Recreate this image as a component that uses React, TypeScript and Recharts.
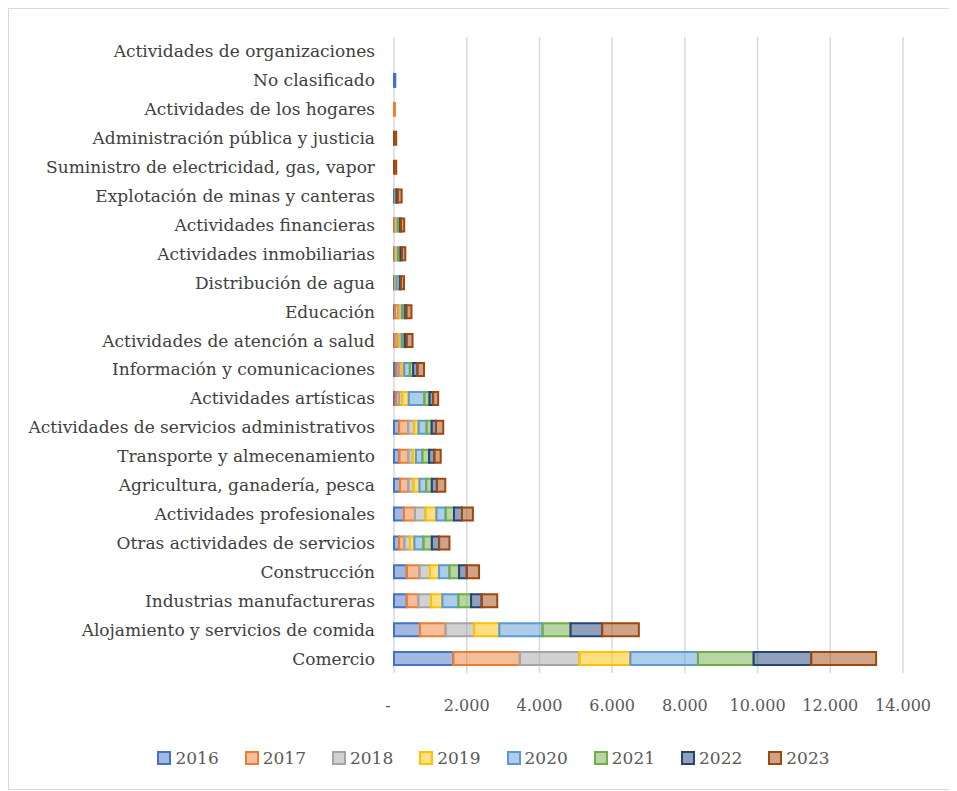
import React from "react"
import { Bar, BarChart, CartesianGrid, Legend, XAxis, YAxis } from "recharts"

const categories = [
  "Actividades de organizaciones",
  "No clasificado",
  "Actividades de los hogares",
  "Administración pública y justicia",
  "Suministro de electricidad, gas, vapor ",
  "Explotación de minas y canteras",
  "Actividades financieras",
  "Actividades inmobiliarias",
  "Distribución de agua",
  "Educación",
  "Actividades de atención a salud",
  "Información y comunicaciones",
  "Actividades artísticas",
  "Actividades de servicios administrativos",
  "Transporte y almecenamiento",
  "Agricultura, ganadería, pesca",
  "Actividades profesionales",
  "Otras actividades de servicios",
  "Construcción",
  "Industrias manufactureras",
  "Alojamiento y servicios de comida",
  "Comercio",
]

const years = ["2016", "2017", "2018", "2019", "2020", "2021", "2022", "2023"]

const v2016 = [0, 35, 0, 0, 0, 40, 10, 10, 20, 20, 10, 65, 45, 140, 145, 165, 275, 140, 350, 350, 715, 1630]
const v2017 = [0, 0, 25, 0, 0, 5, 30, 20, 10, 90, 90, 75, 90, 250, 250, 230, 300, 145, 350, 320, 705, 1830]
const v2018 = [0, 0, 0, 0, 0, 5, 20, 30, 20, 45, 45, 75, 90, 165, 120, 140, 290, 155, 290, 350, 780, 1640]
const v2019 = [0, 0, 0, 0, 0, 5, 40, 50, 20, 65, 65, 65, 180, 120, 90, 165, 300, 120, 250, 310, 695, 1400]
const v2020 = [0, 0, 0, 0, 0, 10, 30, 40, 85, 55, 55, 155, 430, 220, 175, 185, 255, 250, 285, 440, 1190, 1860]
const v2021 = [0, 0, 0, 0, 0, 5, 40, 30, 10, 35, 35, 90, 140, 140, 185, 155, 230, 230, 265, 350, 770, 1530]
const v2022 = [0, 0, 0, 0, 0, 30, 20, 40, 20, 30, 45, 120, 100, 120, 145, 140, 220, 200, 210, 290, 870, 1585]
const v2023 = [0, 0, 0, 60, 60, 110, 90, 90, 90, 140, 165, 180, 140, 200, 175, 230, 300, 285, 340, 430, 1010, 1785]

const xTicks = [0, 2000, 4000, 6000, 8000, 10000, 12000, 14000]

const seriesValues = [v2016, v2017, v2018, v2019, v2020, v2021, v2022, v2023]
const colors = ["#4472C4", "#ED7D31", "#A5A5A5", "#FFC000", "#5B9BD5", "#70AD47", "#264478", "#9E480E"]

const FONT = "'DejaVu Serif', serif"

const chartData = categories.map((name, i) => {
  const row: Record<string, string | number> = { name }
  years.forEach((y, k) => {
    row[y] = seriesValues[k][i]
  })
  return row
})

const formatTick = (v: number) => (v === 0 ? "-" : v.toLocaleString("de-DE"))

const XTick = ({ x, y, payload }: any) => (
  <text
    x={payload.value === 0 ? x - 6 : x}
    y={y}
    dy="0.71em"
    textAnchor="middle"
    fill="#595959"
    fontSize={16}
    fontFamily={FONT}
  >
    {formatTick(payload.value)}
  </text>
)

const LegendContent = () => (
  <div
    style={{
      display: "flex",
      justifyContent: "center",
      paddingLeft: 50,
      fontFamily: FONT,
      fontSize: 17,
      color: "#595959",
    }}
  >
    {years.map((y, k) => (
      <div key={y} style={{ display: "flex", alignItems: "center", marginRight: 26 }}>
        <span
          style={{
            display: "inline-block",
            width: 10,
            height: 10,
            border: `2px solid ${colors[k]}`,
            background: colors[k] + "80",
            marginRight: 4,
          }}
        />
        {y}
      </div>
    ))}
  </div>
)

export default function App() {
  return (
    <div
      style={{
        width: 946,
        height: 780,
        border: "1px solid #d9d9d9",
        background: "#fff",
      }}
    >
      <BarChart
        width={945}
        height={775}
        data={chartData}
        layout="vertical"
        barSize={13}
        margin={{ top: 28, right: 51, left: 0, bottom: 16 }}
      >
        <CartesianGrid horizontal={false} stroke="#d9d9d9" strokeWidth={1.5} />
        <XAxis
          type="number"
          domain={[0, 14000]}
          ticks={xTicks}
          tick={<XTick />}
          axisLine={false}
          tickLine={false}
          tickMargin={21}
          height={75}
          interval={0}
        />
        <YAxis
          type="category"
          dataKey="name"
          width={385}
          interval={0}
          axisLine={false}
          tickLine={false}
          tickMargin={13}
          tick={{ fill: "#404040", fontSize: 17, fontFamily: FONT }}
        />
        <Legend
          verticalAlign="bottom"
          content={<LegendContent />}
          wrapperStyle={{ left: 0, width: 945 }}
        />
        {years.map((y, k) => (
          <Bar
            key={y}
            dataKey={y}
            stackId="a"
            fill={colors[k]}
            fillOpacity={0.5}
            stroke={colors[k]}
            strokeWidth={2}
            isAnimationActive={false}
          />
        ))}
      </BarChart>
    </div>
  )
}
